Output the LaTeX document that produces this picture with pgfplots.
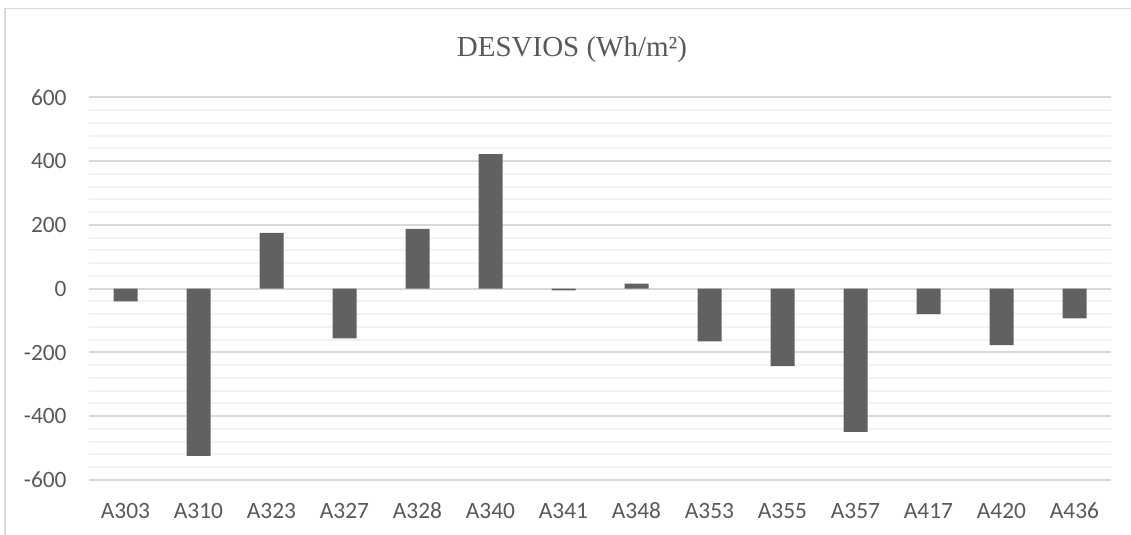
\documentclass[border=0pt]{standalone}
\usepackage{pgfplots}
\pgfplotsset{compat=1.18}
\usepackage{fontspec}
\setmainfont{Carlito}
\newfontfamily\titlefont{Liberation Serif}
\definecolor{txt}{HTML}{595959}
\definecolor{bar}{HTML}{616161}
\definecolor{majg}{HTML}{D9D9D9}
\definecolor{ming}{HTML}{F2F2F2}
\begin{document}
\begin{tikzpicture}[x=1pt,y=1pt]
\useasboundingbox (0,0) rectangle (565.5,267.5);
\draw[majg, line width=0.7pt] (2.5,0) -- (2.5,263.2) -- (565.5,263.2);
\begin{axis}[
  at={(44.5pt,27.5pt)}, anchor=south west,
  scale only axis, width=511pt, height=191.25pt,
  xmin=-0.5, xmax=13.5, ymin=-600, ymax=600,
  ytick={-600,-400,...,600}, minor y tick num=4,
  xtick={0,...,13},
  xticklabels={A303,A310,A323,A327,A328,A340,A341,A348,A353,A355,A357,A417,A420,A436},
  ymajorgrids, yminorgrids,
  major grid style={majg, line width=1pt},
  minor grid style={ming, line width=1pt},
  axis line style={draw=none},
  major tick length=0pt, minor tick length=0pt,
  tick style={draw=none},
  /pgf/number format/assume math mode=true,
  ticklabel style={font=\fontsize{11.7}{13}\selectfont, text=txt},
  yticklabel style={inner xsep=0pt, xshift=-11pt},
  xticklabel style={anchor=base, inner ysep=0pt, yshift=-19.5pt},
  ybar, bar width=12pt,
]
\addplot[fill=bar, draw=none] coordinates {
(0,-40) (1,-524) (2,175) (3,-156) (4,188) (5,422) (6,-5)
(7,16) (8,-165) (9,-243) (10,-449) (11,-80) (12,-177) (13,-93)};
\end{axis}
\node[text=txt, font=\titlefont\fontsize{14.5}{16}\selectfont] at (286,242.5) {DESVIOS (Wh/m²)};
\end{tikzpicture}
\end{document}
